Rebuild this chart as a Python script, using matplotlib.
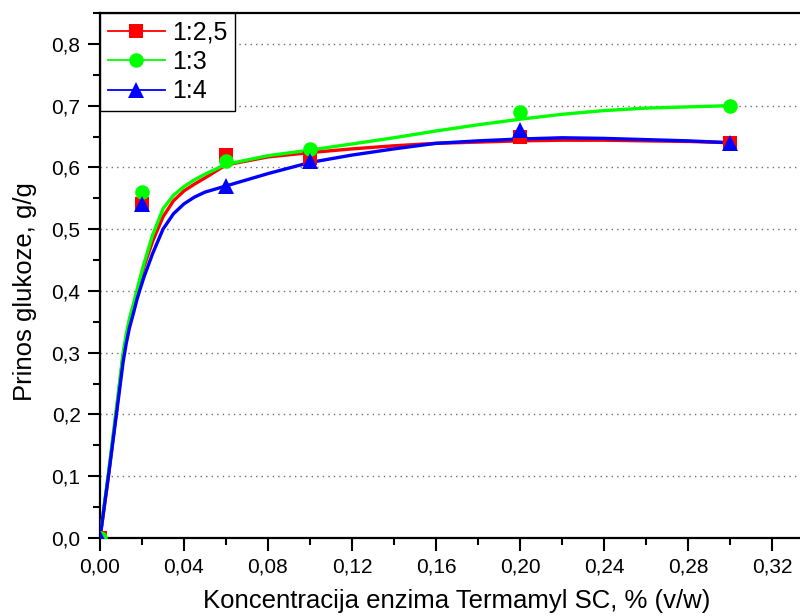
import matplotlib
matplotlib.use("Agg")
import matplotlib.pyplot as plt
from matplotlib.lines import Line2D
from matplotlib.ticker import MultipleLocator, FuncFormatter

plt.rcParams["font.family"] = ["Liberation Sans", "DejaVu Sans"]

# measured points
conc = [0.0, 0.02, 0.06, 0.10, 0.20, 0.30]
ratio_25 = [0.0, 0.54, 0.62, 0.615, 0.65, 0.64]
ratio_3 = [0.0, 0.56, 0.61, 0.63, 0.69, 0.70]
ratio_4 = [0.0, 0.54, 0.57, 0.61, 0.66, 0.64]
labels = ["1:2,5", "1:3", "1:4"]

# fitted curves
fit_x = [0.0, 0.004, 0.008, 0.011, 0.0125, 0.014, 0.016, 0.0175, 0.019, 0.021,
         0.025, 0.03, 0.035, 0.04, 0.045, 0.05, 0.06, 0.08, 0.10, 0.12, 0.14,
         0.16, 0.18, 0.20, 0.22, 0.24, 0.26, 0.28, 0.30]
fit_25 = [0.0, 0.10, 0.21, 0.295, 0.325, 0.35, 0.375, 0.395, 0.415, 0.44,
          0.48, 0.52, 0.546, 0.562, 0.573, 0.583, 0.604, 0.617, 0.624, 0.630, 0.635,
          0.639, 0.641, 0.643, 0.644, 0.644, 0.643, 0.642, 0.640]
fit_3 = [0.0, 0.105, 0.215, 0.30, 0.33, 0.355, 0.38, 0.40, 0.42, 0.445,
         0.49, 0.533, 0.555, 0.569, 0.580, 0.589, 0.605, 0.619, 0.628, 0.638, 0.648,
         0.659, 0.669, 0.678, 0.686, 0.692, 0.696, 0.698, 0.700]
fit_4 = [0.0, 0.10, 0.205, 0.285, 0.315, 0.34, 0.365, 0.385, 0.402, 0.423,
         0.46, 0.50, 0.525, 0.541, 0.552, 0.560, 0.570, 0.590, 0.608, 0.620, 0.630,
         0.639, 0.643, 0.646, 0.648, 0.647, 0.645, 0.643, 0.640]

colors = ["#ff0000", "#00ff00", "#0000ff"]
markers = ["s", "o", "^"]
msizes = [9.5, 10.5, 11.5]

fig = plt.figure(figsize=(8.0, 6.16), dpi=100)
ax = fig.add_axes([0.125, 0.1266, 0.8925, 0.8523])

for fit_y, pts, c, m, ms in zip([fit_25, fit_3, fit_4], [ratio_25, ratio_3, ratio_4],
                                colors, markers, msizes):
    ax.plot(fit_x, fit_y, color=c, lw=2.4, zorder=3, solid_capstyle="round",
            solid_joinstyle="round")
    ax.plot(conc, pts, linestyle="none", marker=m, ms=ms, color=c,
            markeredgewidth=0, zorder=4)

ax.set_xlim(0, 0.34)
ax.set_ylim(0, 0.85)
ax.xaxis.set_major_locator(MultipleLocator(0.04))
ax.xaxis.set_minor_locator(MultipleLocator(0.02))
ax.yaxis.set_major_locator(MultipleLocator(0.1))
ax.yaxis.set_minor_locator(MultipleLocator(0.05))
ax.xaxis.set_major_formatter(FuncFormatter(lambda v, p: f"{v:.2f}".replace(".", ",")))
ax.yaxis.set_major_formatter(FuncFormatter(lambda v, p: f"{v:.1f}".replace(".", ",")))

ax.tick_params(which="major", direction="out", length=9, width=1.5, labelsize=15,
               pad=5, top=False, right=False)
ax.tick_params(which="minor", direction="out", length=5, width=1.5, top=False, right=False)
for side in ["left", "bottom", "top"]:
    ax.spines[side].set_linewidth(1.6)
ax.spines["right"].set_visible(False)

for yv in [0.1, 0.2, 0.3, 0.4, 0.5, 0.6, 0.7, 0.8]:
    ax.axhline(yv, color="#707070", lw=1.0, linestyle=(0, (1, 3)), zorder=1)

ax.set_xlabel("Koncentracija enzima Termamyl SC, % (v/w)", fontsize=18.5)
ax.xaxis.set_label_coords(0.5, -0.098)
ax.set_ylabel("Prinos glukoze, g/g", fontsize=18.5)
ax.yaxis.set_label_coords(-0.088, 0.47)

handles = [Line2D([], [], color=c, lw=1.3, marker=m, ms=ms, markeredgewidth=0)
           for c, m, ms in zip(colors, markers, [9.5, 10.5, 11.5])]
leg = ax.legend(handles, labels, loc="upper left", bbox_to_anchor=(0, 1),
                borderaxespad=0, fontsize=18, handlelength=2.3, handletextpad=0.3,
                labelspacing=0.22, borderpad=0.3, fancybox=False, framealpha=1,
                numpoints=1)
leg.get_frame().set_edgecolor("black")
leg.get_frame().set_linewidth(1.0)
leg.set_zorder(10)

fig.savefig("out.png", dpi=100)
